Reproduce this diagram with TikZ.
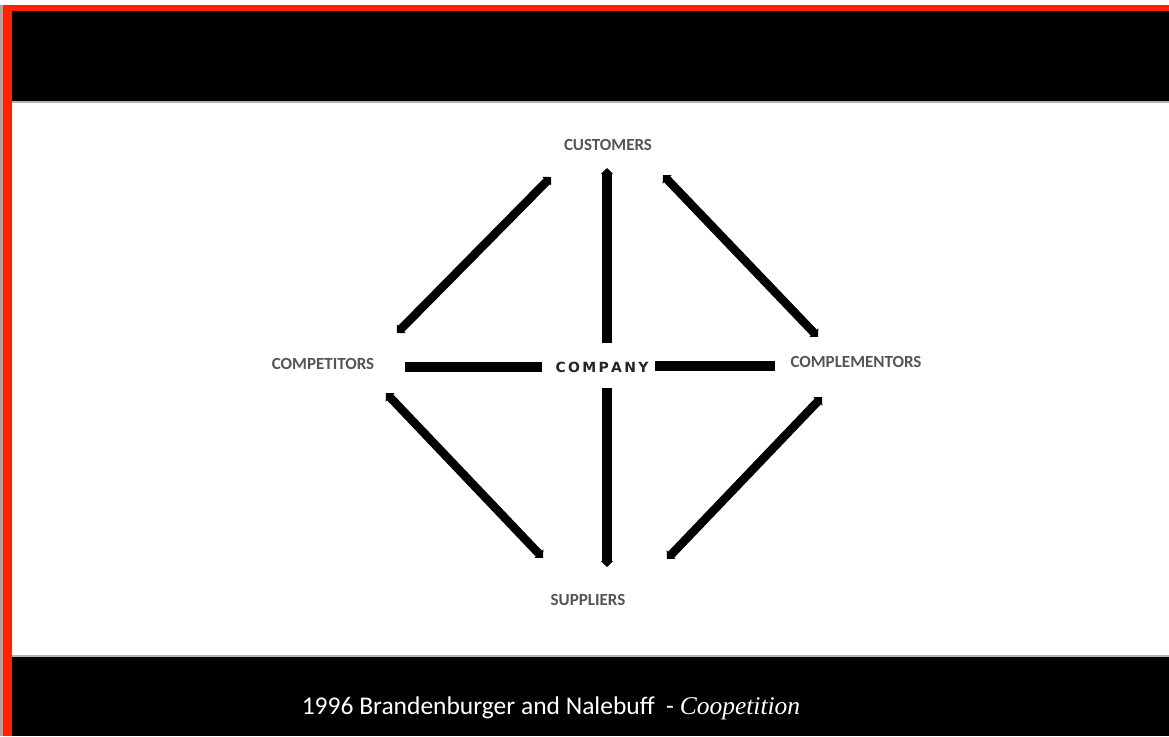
\documentclass[tikz,border=0pt]{standalone}
\usepackage{fontspec}
\setmainfont{Carlito}
\newfontfamily\serifit{Liberation Serif}
\newfontfamily\compfont{DejaVu Sans}
\usetikzlibrary{arrows.meta}
\definecolor{slidered}{HTML}{FF2200}
\definecolor{labelgray}{HTML}{555555}
\tikzset{
  lbl/.style={font=\fontsize{17}{20}\selectfont\bfseries, text=labelgray, inner sep=0pt},
  bar/.style={line width=9.5pt, black},
  tipped/.style={line width=8.5pt, black, {Triangle[length=6pt,width=12pt]}-{Triangle[length=6pt,width=12pt]}},
  tipend/.style={line width=10pt, black, -{Triangle[length=6pt,width=12pt]}},
}
\begin{document}
\begin{tikzpicture}[x=1pt,y=-1pt]
\useasboundingbox (0,0) rectangle (1169,736);
\fill[white] (0,0) rectangle (1169,736);
% frame
\fill[gray!70] (0,5) rectangle (3,736);
\fill[slidered] (3,5) rectangle (1169,11);
\fill[slidered] (3,5) rectangle (12,736);
\fill[black] (12,11) rectangle (1169,101);
\fill[gray!60] (12,101) rectangle (1169,103);
\fill[gray!60] (12,655) rectangle (1169,657);
\fill[black] (12,657) rectangle (1169,736);
% labels
\node[lbl] (customers) at (608,145) {CUSTOMERS};
\node[lbl] (competitors) at (323,364) {COMPETITORS};
\node[lbl] (complementors) at (856,362) {COMPLEMENTORS};
\node[lbl] (suppliers) at (588,600) {SUPPLIERS};
\node[font=\compfont\fontsize{14}{16}\selectfont\bfseries, text=black!85, inner sep=0pt] (company) at (602,367)
  {C\kern2.3pt O\kern2.3pt M\kern2.3pt P\kern2.3pt A\kern2.3pt N\kern2.3pt Y};
% endpoints
\coordinate (ulA) at (397,333); \coordinate (ulB) at (551,177);
\coordinate (urA) at (663,175); \coordinate (urB) at (818,337);
\coordinate (llA) at (386,393); \coordinate (llB) at (543,558);
\coordinate (lrA) at (822,397); \coordinate (lrB) at (667,559);
\coordinate (vtA) at (607,343); \coordinate (vtB) at (607,168);
\coordinate (vbA) at (607,388); \coordinate (vbB) at (607,567);
\coordinate (hlA) at (405,367); \coordinate (hlB) at (542,367);
\coordinate (hrA) at (655,366); \coordinate (hrB) at (775,366);
% connectors
\draw[tipped] (ulA) -- (ulB);
\draw[tipped] (urA) -- (urB);
\draw[tipped] (llA) -- (llB);
\draw[tipped] (lrA) -- (lrB);
\draw[tipend] (vtA) -- (vtB);
\draw[tipend] (vbA) -- (vbB);
\draw[bar] (hlA) -- (hlB);
\draw[bar] (hrA) -- (hrB);
% caption
\node[text=white, font=\fontsize{25.5}{30}\selectfont, inner sep=0pt] (caption) at (551,708)
  {1996 Brandenburger and Nalebuff\ \ - {\serifit\itshape Coopetition}};
\end{tikzpicture}
\end{document}
